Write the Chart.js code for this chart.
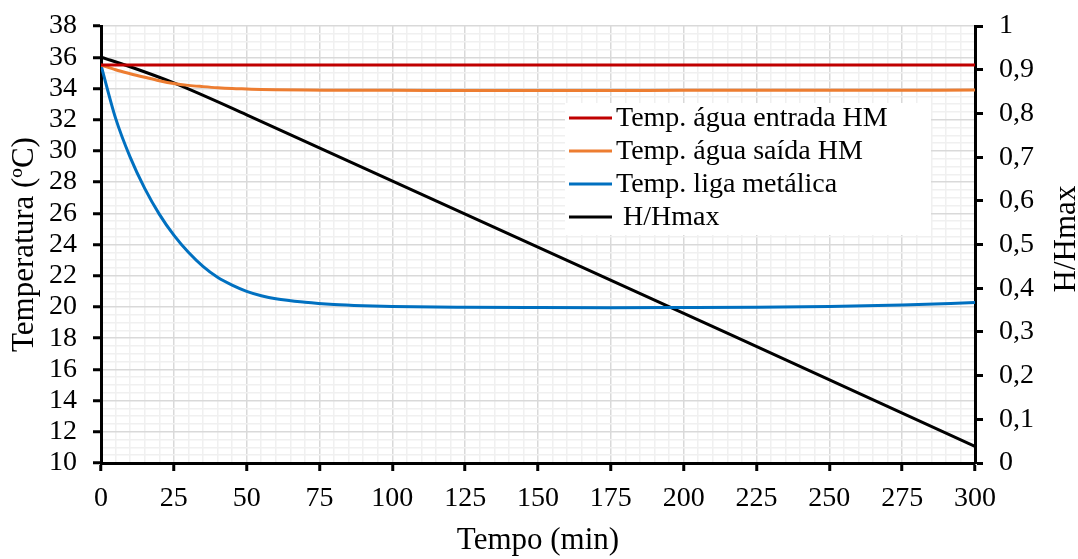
<!DOCTYPE html>
<html>
<head>
<meta charset="utf-8">
<script src="https://cdn.jsdelivr.net/npm/chart.js@4/dist/chart.umd.min.js"></script>
<style>
  html, body { margin: 0; padding: 0; background: #fff; }
  #wrap { width: 1078px; height: 559px; position: relative; }
</style>
</head>
<body>
<div id="wrap"><canvas id="grafico"></canvas></div>
<script>
// ---- dados ----
const tempo = [0, 5, 10, 15, 20, 25, 30, 35, 40, 45, 50, 55, 60, 70, 80, 90, 100, 125, 150, 175, 200, 225, 250, 275, 300];
const tempEntrada = [35.5, 35.5, 35.5, 35.5, 35.5, 35.5, 35.5, 35.5, 35.5, 35.5, 35.5, 35.5, 35.5, 35.5, 35.5, 35.5, 35.5, 35.5, 35.5, 35.5, 35.5, 35.5, 35.5, 35.5, 35.5];
const tempSaida = [35.5, 35.2, 34.95, 34.72, 34.5, 34.32, 34.2, 34.12, 34.05, 34.0, 33.97, 33.94, 33.92, 33.9, 33.89, 33.88, 33.88, 33.87, 33.87, 33.87, 33.88, 33.88, 33.88, 33.89, 33.9];
const tempLiga = [35.5, 32.1, 29.6, 27.6, 25.95, 24.6, 23.5, 22.6, 21.9, 21.4, 21.0, 20.72, 20.52, 20.3, 20.16, 20.08, 20.03, 19.98, 19.96, 19.95, 19.96, 19.98, 20.03, 20.12, 20.28];
const tempoH = [0, 10, 25, 50, 300];
const razaoH = [0.929, 0.907, 0.870, 0.797, 0.038];

const legendas = ['Temp. água entrada HM', 'Temp. água saída HM', 'Temp. liga metálica', ' H/Hmax'];
const cores = ['#c00000', '#ed7d31', '#0070c0', '#000000'];

const FONTE = '"Liberation Serif", "Times New Roman", serif';
Chart.defaults.font.family = FONTE;
Chart.defaults.color = '#000';

function pontos(xs, ys) {
  return xs.map((x, i) => ({ x, y: ys[i] }));
}

// legenda dentro da área do gráfico, com fundo branco
const legendaPlugin = {
  id: 'legendaInterna',
  afterDatasetsDraw(chart) {
    const ctx = chart.ctx;
    ctx.save();
    ctx.fillStyle = '#fff';
    ctx.fillRect(565, 103, 366, 132);
    ctx.font = '28px ' + FONTE;
    ctx.textBaseline = 'middle';
    ctx.textAlign = 'left';
    legendas.forEach((txt, i) => {
      const y = 118 + i * 33;
      ctx.strokeStyle = cores[i];
      ctx.lineWidth = 3;
      ctx.beginPath();
      ctx.moveTo(569, y);
      ctx.lineTo(612, y);
      ctx.stroke();
      ctx.fillStyle = '#000';
      ctx.fillText(txt, 616, y + 1);
    });
    ctx.restore();
  },
  afterDraw(chart) {
    // título do eixo direito, lido de baixo para cima
    const ctx = chart.ctx;
    ctx.save();
    ctx.translate(1067, 239);
    ctx.rotate(-Math.PI / 2);
    ctx.font = '31px ' + FONTE;
    ctx.fillStyle = '#000';
    ctx.textAlign = 'center';
    ctx.textBaseline = 'middle';
    ctx.fillText('H/Hmax', 0, 0);
    ctx.restore();
  },
};

const serie = (i, xs, ys, eixo) => ({
  label: legendas[i],
  data: pontos(xs, ys),
  borderColor: cores[i],
  backgroundColor: cores[i],
  borderWidth: 3,
  pointRadius: 0,
  cubicInterpolationMode: 'monotone',
  yAxisID: eixo,
});

const ehMaiorX = (v) => Math.abs(v % 25) < 1e-6;
const ehMaiorY = (v) => Math.abs(v - Math.round(v)) < 1e-6 && Math.round(v) % 2 === 0;

new Chart(document.getElementById('grafico'), {
  type: 'line',
  data: {
    datasets: [
      serie(0, tempo, tempEntrada, 'y'),
      serie(1, tempo, tempSaida, 'y'),
      serie(2, tempo, tempLiga, 'y'),
      serie(3, tempoH, razaoH, 'y2'),
    ],
  },
  options: {
    responsive: true,
    maintainAspectRatio: false,
    animation: false,
    layout: { padding: { top: 25, left: 0, right: 0, bottom: 0 } },
    plugins: { legend: { display: false }, tooltip: { enabled: false } },
    scales: {
      x: {
        type: 'linear',
        min: 0,
        max: 300,
        afterFit: (s) => { s.height = 96; },
        border: { color: '#000', width: 3 },
        grid: {
          color: (c) => (ehMaiorX(c.tick.value) ? '#d9d9d9' : '#f0f0f0'),
          lineWidth: 1.5,
          tickLength: 8,
          tickColor: (c) => (ehMaiorX(c.tick.value) ? '#000' : 'rgba(0,0,0,0)'),
          tickWidth: 3,
        },
        ticks: {
          stepSize: 5,
          autoSkip: false,
          maxRotation: 0,
          padding: 11,
          font: { size: 28 },
          callback: (v) => (ehMaiorX(v) ? String(v) : ''),
        },
        title: { display: true, text: 'Tempo (min)', font: { size: 31 }, padding: { top: 0, bottom: 0 } },
      },
      y: {
        position: 'left',
        min: 10,
        max: 38,
        afterFit: (s) => { s.width = 101; },
        border: { color: '#000', width: 3 },
        grid: {
          color: (c) => (ehMaiorY(c.tick.value) ? '#d9d9d9' : '#f0f0f0'),
          lineWidth: 1.5,
          tickLength: 8,
          tickColor: (c) => (ehMaiorY(c.tick.value) ? '#000' : 'rgba(0,0,0,0)'),
          tickWidth: 3,
        },
        ticks: {
          stepSize: 0.5,
          autoSkip: false,
          padding: 16,
          font: { size: 28, lineHeight: 0.72 },
          callback: (v) => (ehMaiorY(v) ? String(Math.round(v)) : ''),
        },
        title: { display: true, text: 'Temperatura (ºC)', font: { size: 31 }, padding: { top: 6, bottom: 0 } },
      },
      y2: {
        position: 'right',
        min: 0,
        max: 1,
        afterFit: (s) => { s.width = 103; },
        border: { color: '#000', width: 3 },
        grid: {
          drawOnChartArea: false,
          tickLength: 8,
          tickColor: '#000',
          tickWidth: 3,
        },
        ticks: {
          stepSize: 0.1,
          padding: 16,
          font: { size: 28, lineHeight: 0.72 },
          callback: (v) => String(Math.round(v * 10) / 10).replace('.', ','),
        },
      },
    },
  },
  plugins: [legendaPlugin],
});
</script>
</body>
</html>
